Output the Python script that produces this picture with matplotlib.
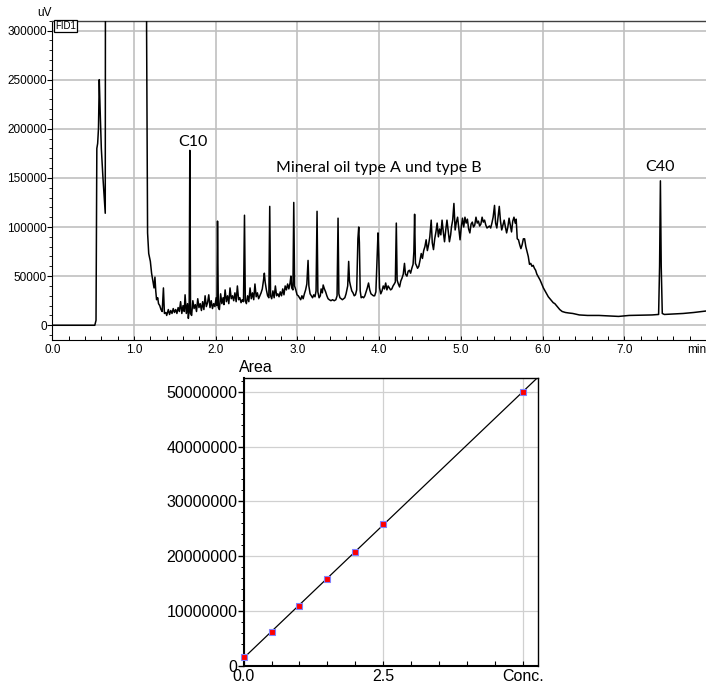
import numpy as np
import matplotlib
matplotlib.use("Agg")
import matplotlib.pyplot as plt
from matplotlib.ticker import MultipleLocator, FixedLocator

plt.rcParams['font.family'] = ['Liberation Sans', 'DejaVu Sans']

# ---------------- chromatogram data (time in min, signal in 1000 uV) ----------------
time_min = [
    0.00, 0.52, 0.535, 0.545, 0.555, 0.565, 0.575, 0.585, 0.60, 0.62, 0.648, 0.656,
    1.15, 1.154, 1.166, 1.18, 1.20, 1.215, 1.235, 1.245, 1.256, 1.266, 1.276, 1.29,
    1.30, 1.315, 1.33, 1.345, 1.36, 1.372, 1.39, 1.40, 1.42, 1.435, 1.45, 1.465,
    1.48, 1.495, 1.51, 1.525, 1.54, 1.555, 1.57, 1.585, 1.60, 1.615, 1.625, 1.64,
    1.655, 1.665, 1.675, 1.683, 1.692, 1.705, 1.72, 1.735, 1.75, 1.765, 1.78, 1.795,
    1.81, 1.825, 1.84, 1.855, 1.87, 1.885, 1.90, 1.915, 1.93, 1.945, 1.96, 1.975,
    1.99, 2.005, 2.015, 2.022, 2.032, 2.045, 2.06, 2.075, 2.09, 2.10, 2.115, 2.13,
    2.145, 2.16, 2.175, 2.19, 2.205, 2.22, 2.235, 2.25, 2.265, 2.28, 2.295, 2.31,
    2.325, 2.34, 2.352, 2.362, 2.375, 2.39, 2.405, 2.42, 2.435, 2.45, 2.465, 2.48,
    2.495, 2.51, 2.525, 2.54, 2.555, 2.57, 2.585, 2.595, 2.605, 2.62, 2.635, 2.65,
    2.661, 2.671, 2.685, 2.70, 2.715, 2.73, 2.745, 2.76, 2.775, 2.79, 2.805, 2.82,
    2.835, 2.85, 2.865, 2.88, 2.895, 2.91, 2.92, 2.93, 2.945, 2.955, 2.965, 2.98,
    2.995, 3.01, 3.025, 3.04, 3.055, 3.07, 3.085, 3.10, 3.115, 3.13, 3.14, 3.155,
    3.17, 3.185, 3.20, 3.215, 3.228, 3.24, 3.25, 3.265, 3.28, 3.29, 3.305, 3.315,
    3.33, 3.345, 3.36, 3.375, 3.39, 3.41, 3.43, 3.45, 3.47, 3.485, 3.497, 3.507,
    3.52, 3.535, 3.55, 3.565, 3.58, 3.595, 3.615, 3.627, 3.637, 3.65, 3.665, 3.68,
    3.695, 3.71, 3.725, 3.74, 3.75, 3.758, 3.768, 3.78, 3.795, 3.81, 3.825, 3.84,
    3.855, 3.87, 3.885, 3.90, 3.915, 3.93, 3.945, 3.96, 3.975, 3.986, 3.995, 4.005,
    4.02, 4.035, 4.05, 4.065, 4.08, 4.095, 4.11, 4.125, 4.14, 4.155, 4.17, 4.185,
    4.198, 4.21, 4.22, 4.235, 4.25, 4.265, 4.28, 4.295, 4.31, 4.322, 4.34, 4.355,
    4.37, 4.385, 4.40, 4.415, 4.425, 4.434, 4.444, 4.455, 4.47, 4.485, 4.50, 4.515,
    4.53, 4.545, 4.56, 4.575, 4.59, 4.605, 4.62, 4.637, 4.65, 4.665, 4.68, 4.695,
    4.71, 4.725, 4.74, 4.755, 4.77, 4.785, 4.80, 4.815, 4.83, 4.845, 4.86, 4.875,
    4.885, 4.90, 4.915, 4.93, 4.945, 4.96, 4.975, 4.99, 5.005, 5.02, 5.035, 5.05,
    5.065, 5.08, 5.095, 5.11, 5.125, 5.14, 5.155, 5.17, 5.185, 5.20, 5.215, 5.23,
    5.245, 5.26, 5.275, 5.29, 5.305, 5.32, 5.335, 5.35, 5.365, 5.38, 5.395, 5.412,
    5.425, 5.44, 5.455, 5.47, 5.485, 5.50, 5.515, 5.53, 5.545, 5.56, 5.575, 5.59,
    5.605, 5.62, 5.635, 5.65, 5.665, 5.677, 5.69, 5.705, 5.72, 5.735, 5.75, 5.765,
    5.78, 5.795, 5.81, 5.825, 5.84, 5.855, 5.87, 5.885, 5.90, 5.915, 5.93, 5.95,
    5.97, 5.99, 6.01, 6.03, 6.05, 6.07, 6.09, 6.11, 6.13, 6.15, 6.17, 6.19,
    6.21, 6.24, 6.28, 6.32, 6.37, 6.45, 6.55, 6.69, 6.80, 6.93, 7.00, 7.06,
    7.20, 7.34, 7.42, 7.432, 7.442, 7.452, 7.465, 7.49, 7.60, 7.72, 7.85, 8.00,
]
signal_k_uv = [
    0, 0, 5, 180, 185, 200, 250, 220, 180, 150, 114, 900,
    900, 300, 94, 73, 65, 53, 43, 38, 49, 35, 26, 28,
    22, 20, 16, 14, 38, 12, 13, 10, 16, 11, 15, 12,
    17, 13, 16, 12, 18, 14, 24, 12, 20, 14, 31, 12,
    22, 7, 15, 178, 12, 10, 25, 17, 21, 14, 27, 18,
    22, 15, 24, 16, 30, 19, 23, 31, 18, 25, 17, 22,
    19, 28, 20, 106, 18, 16, 32, 22, 28, 21, 36, 24,
    30, 22, 38, 27, 30, 25, 33, 24, 40, 26, 28, 23,
    26, 24, 112, 25, 22, 30, 24, 38, 27, 33, 26, 42,
    29, 33, 27, 30, 33, 37, 46, 53, 44, 36, 30, 28,
    121, 30, 27, 35, 28, 40, 30, 32, 29, 34, 30, 37,
    31, 40, 36, 42, 37, 43, 50, 38, 36, 125, 40, 36,
    31, 30, 28, 26, 30, 27, 32, 36, 42, 66, 40, 32,
    30, 28, 31, 29, 35, 116, 34, 28, 30, 37, 33, 41,
    37, 34, 30, 27, 26, 25, 26, 25, 26, 30, 109, 32,
    28, 27, 26, 27, 28, 32, 40, 65, 45, 40, 35, 33,
    30, 31, 36, 88, 100, 84, 35, 28, 29, 28, 30, 34,
    38, 43, 36, 32, 31, 30, 30, 34, 70, 94, 72, 38,
    32, 35, 40, 37, 43, 36, 40, 38, 36, 37, 40, 42,
    44, 104, 46, 42, 39, 45, 48, 52, 63, 52, 50, 55,
    56, 53, 58, 62, 75, 113, 63, 61, 58, 60, 66, 73,
    68, 76, 80, 87, 76, 82, 90, 107, 84, 77, 88, 95,
    104, 90, 98, 92, 107, 95, 85, 97, 107, 96, 85, 92,
    100, 107, 124, 97, 105, 110, 98, 87, 100, 109, 100, 110,
    104, 108, 98, 94, 103, 105, 100, 102, 110, 104, 106, 101,
    103, 110, 105, 107, 102, 99, 100, 101, 99, 104, 110, 122,
    104, 99, 110, 121, 106, 97, 102, 107, 100, 94, 100, 109,
    102, 95, 106, 110, 104, 108, 88, 87, 82, 78, 82, 88,
    88, 80, 75, 70, 62, 63, 60, 61, 58, 56, 52, 49,
    46, 42, 38, 35, 32, 29, 27, 25, 23, 22, 20, 18,
    16, 14, 13, 12.5, 12, 10.5, 10, 10, 9.5, 9, 9.5, 10,
    10.2, 10.5, 11, 60, 147, 60, 12, 11, 11.5, 12, 13, 14.5,
]

# ---------------- calibration data ----------------
conc = [0.0, 0.5, 1.0, 1.5, 2.0, 2.5, 5.0]
area = [1.65e6, 6.27e6, 10.97e6, 15.86e6, 20.85e6, 25.97e6, 49.94e6]

chrom_xticks = [0, 1, 2, 3, 4, 5, 6, 7]
chrom_xticklabels = ['0.0', '1.0', '2.0', '3.0', '4.0', '5.0', '6.0', '7.0']
cal_xticks = [0.0, 2.5, 5.0]
cal_xticklabels = ['0.0', '2.5', 'Conc.']

W, H = 706, 683
fig = plt.figure(figsize=(W / 100, H / 100), dpi=100)

# ---------------- top: chromatogram ----------------
ax = fig.add_axes([52.3 / W, 1 - 340 / H, 1 - 52.3 / W, (340 - 20.7) / H])
t = np.array(time_min)
s = np.array(signal_k_uv) * 1000.0
ax.plot(t, s, color='black', lw=1.1, zorder=3)
ax.set_xlim(0, 8.0)
ax.set_ylim(-15000, 310000)
ax.xaxis.set_major_locator(FixedLocator(chrom_xticks))
ax.set_xticklabels(chrom_xticklabels)
ax.xaxis.set_minor_locator(MultipleLocator(0.2))
ax.yaxis.set_major_locator(MultipleLocator(50000))
ax.yaxis.set_minor_locator(MultipleLocator(10000))
ax.yaxis.set_major_formatter(matplotlib.ticker.FuncFormatter(lambda v, p: f"{int(round(v))}"))
ax.grid(True, which='major', color='#c0c0c0', lw=1.2)
ax.set_axisbelow(True)
ax.tick_params(axis='y', which='major', direction='out', length=3.5, width=0.8, labelsize=8.5, pad=0.5)
ax.tick_params(axis='y', which='minor', direction='out', length=2, width=0.6)
ax.tick_params(axis='x', which='both', direction='in', length=3, width=0.7, labelsize=8.5, pad=3)
ax.spines['right'].set_visible(False)
ax.spines['top'].set_color('#404040')
ax.spines['top'].set_linewidth(1.0)
for sp in ('left', 'bottom'):
    ax.spines[sp].set_linewidth(0.8)
    ax.spines[sp].set_color('black')

ax.text(1.0, -0.014, 'min', transform=ax.transAxes, ha='right', va='top', fontsize=8.5)
fig.text(44 / W, 1 - 13 / H, 'uV', ha='center', va='center', fontsize=8.5)
fig.text(65.5 / W, 1 - 26 / H, 'FID1', ha='center', va='center', fontsize=7,
         bbox=dict(boxstyle='square,pad=0.15', fc='white', ec='black', lw=0.9))

ann_font = dict(family=['Lato', 'DejaVu Sans'], fontsize=11.5)
ax.text(1.72, 187000, 'C10', ha='center', va='center', **ann_font)
ax.text(3.99, 160000, 'Mineral oil type A und type B', ha='center', va='center', **ann_font)
ax.text(7.44, 161000, 'C40', ha='center', va='center', **ann_font)

# ---------------- bottom: calibration curve ----------------
ax2 = fig.add_axes([243.7 / W, 1 - 666 / H, (538.3 - 243.7) / W, (666 - 378.3) / H])
ax2.set_xlim(0, 5.28)
ax2.set_ylim(0, 52.44e6)
slope, intercept = np.polyfit(conc, area, 1)
xf = np.array([0.0, 5.6])
ax2.plot(xf, slope * xf + intercept, color='black', lw=0.9, zorder=3)
ax2.plot(conc, area, 's', mfc='red', mec='#8080ff', ms=5, mew=0.8, zorder=4, clip_on=False)
ax2.xaxis.set_major_locator(FixedLocator(cal_xticks))
ax2.set_xticklabels(cal_xticklabels)
ax2.xaxis.set_minor_locator(MultipleLocator(0.5))
ax2.yaxis.set_major_locator(MultipleLocator(10e6))
ax2.yaxis.set_minor_locator(MultipleLocator(2e6))
ax2.yaxis.set_major_formatter(matplotlib.ticker.FuncFormatter(lambda v, p: f"{int(round(v))}"))
ax2.grid(True, which='major', color='#d0d0d0', lw=0.9)
ax2.set_axisbelow(True)
ax2.tick_params(axis='y', which='major', direction='out', length=4, width=1.0, labelsize=11.5, pad=0.5)
ax2.tick_params(axis='y', which='minor', direction='out', length=2.5, width=0.7)
ax2.tick_params(axis='x', which='both', direction='in', length=3.5, width=0.8, labelsize=11.5, pad=2)
for sp in ('left', 'bottom'):
    ax2.spines[sp].set_linewidth(1.5)
for sp in ('top', 'right'):
    ax2.spines[sp].set_linewidth(1.0)
fig.text(256 / W, 1 - 368 / H, 'Area', ha='center', va='center', fontsize=11.5)

fig.savefig('out.png', dpi=100)
